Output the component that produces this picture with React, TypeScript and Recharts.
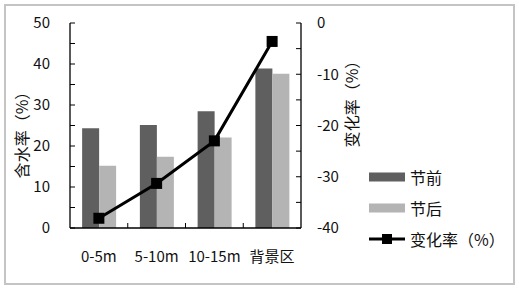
import React from 'react';
import { ComposedChart, Bar, Line, XAxis, YAxis, Legend } from 'recharts';

const categories = ['0-5m', '5-10m', '10-15m', '背景区'];
const beforeValues = [24.3, 25.1, 28.5, 38.9];
const afterValues = [15.2, 17.4, 22.1, 37.6];
const changeValues = [-38.1, -31.3, -23.0, -3.6];
const leftTicks = [0, 5, 10, 15, 20, 25, 30, 35, 40, 45, 50];
const rightTicks = [-40, -35, -30, -25, -20, -15, -10, -5, 0];
const legendOrder = ['before', 'after', 'change'];

const data = categories.map((c, i) => ({
  cat: c,
  before: beforeValues[i],
  after: afterValues[i],
  change: changeValues[i],
}));

const FONT = "'Noto Sans CJK SC', 'Noto Sans', sans-serif";
const DARK = '#5f5f5f';
const LIGHT = '#b4b4b4';
const X_TICK_MARGIN = 23;

const SquareDot = (props: any) => {
  const { cx, cy } = props;
  if (cx == null || cy == null) return null;
  return <rect x={cx - 5.5} y={cy - 5.5} width={11} height={11} fill="#000" />;
};

const CategoryTick = (props: any) => {
  const { x, y, payload, index } = props;
  const axisY = y - X_TICK_MARGIN;
  const half = (payload && payload.offset) || 0;
  return (
    <g>
      {index > 0 && half > 0 ? (
        <line x1={x - half} x2={x - half} y1={axisY} y2={axisY - 5} stroke="#000" strokeWidth={1} />
      ) : null}
      <text
        x={x}
        y={y}
        dy="0.71em"
        textAnchor="middle"
        fontFamily={FONT}
        fontSize={15}
        fill="#111"
      >
        {payload.value}
      </text>
    </g>
  );
};

const LegendContent = (props: any) => {
  const { payload } = props;
  const items = [...(payload || [])].sort(
    (a: any, b: any) => legendOrder.indexOf(a.dataKey) - legendOrder.indexOf(b.dataKey)
  );
  return (
    <div style={{ fontFamily: FONT, fontSize: 16, color: '#111' }}>
      {items.map((p: any, i: number) => (
        <div key={i} style={{ display: 'flex', alignItems: 'center', height: 31.3 }}>
          <svg width={38} height={12} style={{ display: 'block' }}>
            {p.type === 'line' ? (
              <g>
                <line x1={0} y1={6} x2={36} y2={6} stroke="#000" strokeWidth={3} />
                <rect x={13} y={1} width={10} height={10} fill="#000" />
              </g>
            ) : (
              <rect x={0} y={1.5} width={36} height={9} fill={p.color} />
            )}
          </svg>
          <span style={{ marginLeft: 3 }}>{p.value}</span>
        </div>
      ))}
    </div>
  );
};

const LeftTitle = () => (
  <text
    x={21}
    y={131}
    transform="rotate(-90, 21, 131)"
    textAnchor="middle"
    dominantBaseline="central"
    fontFamily={FONT}
    fontSize={16}
    fill="#111"
  >
    含水率（%）
  </text>
);

const RightTitle = () => (
  <text
    x={351}
    y={100}
    transform="rotate(-90, 351, 100)"
    textAnchor="middle"
    dominantBaseline="central"
    fontFamily={FONT}
    fontSize={16}
    fill="#111"
  >
    变化率（%）
  </text>
);

export default function App() {
  const tickStyle = { fontFamily: FONT, fontSize: 15, fill: '#111' };
  return (
    <div style={{ position: 'absolute', left: 0, top: 0, width: 519, height: 288, background: '#fff' }}>
      <div
        style={{
          position: 'absolute',
          left: 4,
          top: 4,
          width: 507,
          height: 277,
          border: '2px solid #c4c4c4',
        }}
      />
      <div style={{ position: 'absolute', left: 0, top: 0 }}>
        <ComposedChart
          width={519}
          height={288}
          data={data}
          margin={{ top: 23, right: 120, bottom: 30, left: 10 }}
          barCategoryGap="21%"
          barGap={0}
        >
          <XAxis
            dataKey="cat"
            height={30}
            tickLine={false}
            tickSize={0}
            tickMargin={X_TICK_MARGIN}
            axisLine={{ stroke: '#000', strokeWidth: 1.3 }}
            tick={<CategoryTick />}
            interval={0}
          />
          <YAxis
            yAxisId="left"
            width={60}
            domain={[0, 50]}
            ticks={leftTicks}
            interval={0}
            tickSize={-5}
            tickMargin={25}
            tickFormatter={(v: number) => (v % 10 === 0 ? String(v) : '')}
            axisLine={{ stroke: '#000', strokeWidth: 1.3 }}
            tickLine={{ stroke: '#000', strokeWidth: 1 }}
            tick={tickStyle}
            label={<LeftTitle />}
          />
          <YAxis
            yAxisId="right"
            orientation="right"
            width={98}
            domain={[-40, 0]}
            ticks={rightTicks}
            interval={0}
            tickSize={-5}
            tickMargin={21}
            tickFormatter={(v: number) => (v % 10 === 0 ? String(v) : '')}
            axisLine={{ stroke: '#000', strokeWidth: 1.3 }}
            tickLine={{ stroke: '#000', strokeWidth: 1 }}
            tick={tickStyle}
            label={<RightTitle />}
          />
          <Bar yAxisId="left" dataKey="before" name="节前" fill={DARK} legendType="rect" isAnimationActive={false} />
          <Bar yAxisId="left" dataKey="after" name="节后" fill={LIGHT} legendType="rect" isAnimationActive={false} />
          <Line
            yAxisId="right"
            dataKey="change"
            name="变化率（%）"
            stroke="#000"
            strokeWidth={3}
            dot={<SquareDot />}
            activeDot={false}
            legendType="line"
            isAnimationActive={false}
          />
          <Legend
            layout="vertical"
            align="center"
            verticalAlign="middle"
            content={<LegendContent />}
            wrapperStyle={{ position: 'absolute', left: 369, top: 161, width: 150, height: 94 }}
          />
        </ComposedChart>
      </div>
    </div>
  );
}
